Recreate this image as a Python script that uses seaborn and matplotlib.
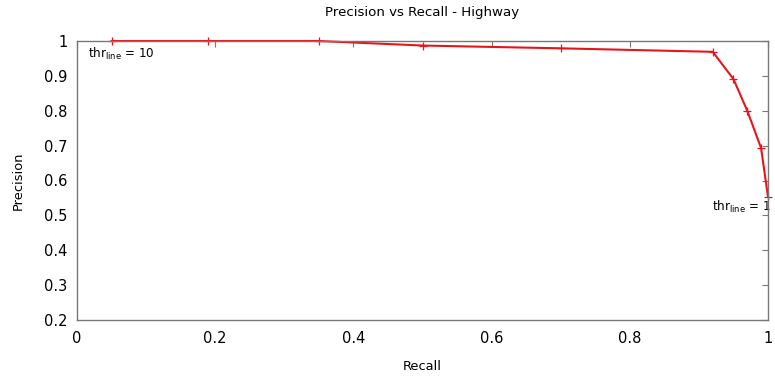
import matplotlib
matplotlib.use("Agg")
import matplotlib.pyplot as plt
import seaborn as sns
import pandas as pd

# Precision/recall pairs for line thresholds 10 down to 1
thresholds = [10, 9, 8, 7, 6, 5, 4, 3, 2, 1]
recall = [0.05, 0.19, 0.35, 0.50, 0.70, 0.92, 0.95, 0.97, 0.99, 1.00]
precision = [1.00, 1.00, 1.00, 0.987, 0.979, 0.969, 0.891, 0.800, 0.693, 0.553]

x_ticks = [0, 0.2, 0.4, 0.6, 0.8, 1]
x_tick_labels = ["0", "0.2", "0.4", "0.6", "0.8", "1"]
y_ticks = [0.2, 0.3, 0.4, 0.5, 0.6, 0.7, 0.8, 0.9, 1]
y_tick_labels = ["0.2", "0.3", "0.4", "0.5", "0.6", "0.7", "0.8", "0.9", "1"]

sns.set_style("white")
plt.rcParams["font.family"] = ["DejaVu Sans"]
plt.rcParams["mathtext.fontset"] = "dejavusans"
plt.rcParams["text.color"] = "black"

df = pd.DataFrame({"Recall": recall, "Precision": precision, "thr": thresholds})

fig = plt.figure(figsize=(7.75, 3.81), dpi=100)
ax = fig.add_axes([77 / 775, 1 - 320 / 381, (768 - 77) / 775, (320 - 41) / 381])

sns.lineplot(data=df, x="Recall", y="Precision", ax=ax, color="#e8141c",
             linewidth=1.5, marker="+", markersize=6, markeredgewidth=0.9,
             markeredgecolor="#e8141c", sort=False, clip_on=False)

ax.set_xlim(0, 1)
ax.set_ylim(0.2, 1)
ax.set_xticks(x_ticks)
ax.set_xticklabels(x_tick_labels)
ax.set_yticks(y_ticks)
ax.set_yticklabels(y_tick_labels)

for s in ax.spines.values():
    s.set_color("#777777")
    s.set_linewidth(1.0)
ax.tick_params(direction="in", length=4, width=0.8, color="#777777",
               top=True, right=True, labelsize=10.5, labelcolor="black")
ax.tick_params(axis="x", pad=8)
ax.tick_params(axis="y", pad=7)

ax.set_title("Precision vs Recall - Highway", fontsize=9.6, pad=18, color="black")
ax.set_xlabel("Recall", fontsize=9.4, labelpad=10, color="black")
ax.set_ylabel("Precision", fontsize=9.4, labelpad=14, color="black")

# Threshold annotations at both ends of the curve
ax.text(0.016, 0.963, r"thr$_{\mathrm{line}}$ = " + str(thresholds[0]),
        fontsize=8.6, ha="left", va="center")
ax.text(1.003, 0.524, r"thr$_{\mathrm{line}}$ = " + str(thresholds[-1]),
        fontsize=8.6, ha="right", va="center", zorder=1)

fig.savefig("out.png", dpi=100)
